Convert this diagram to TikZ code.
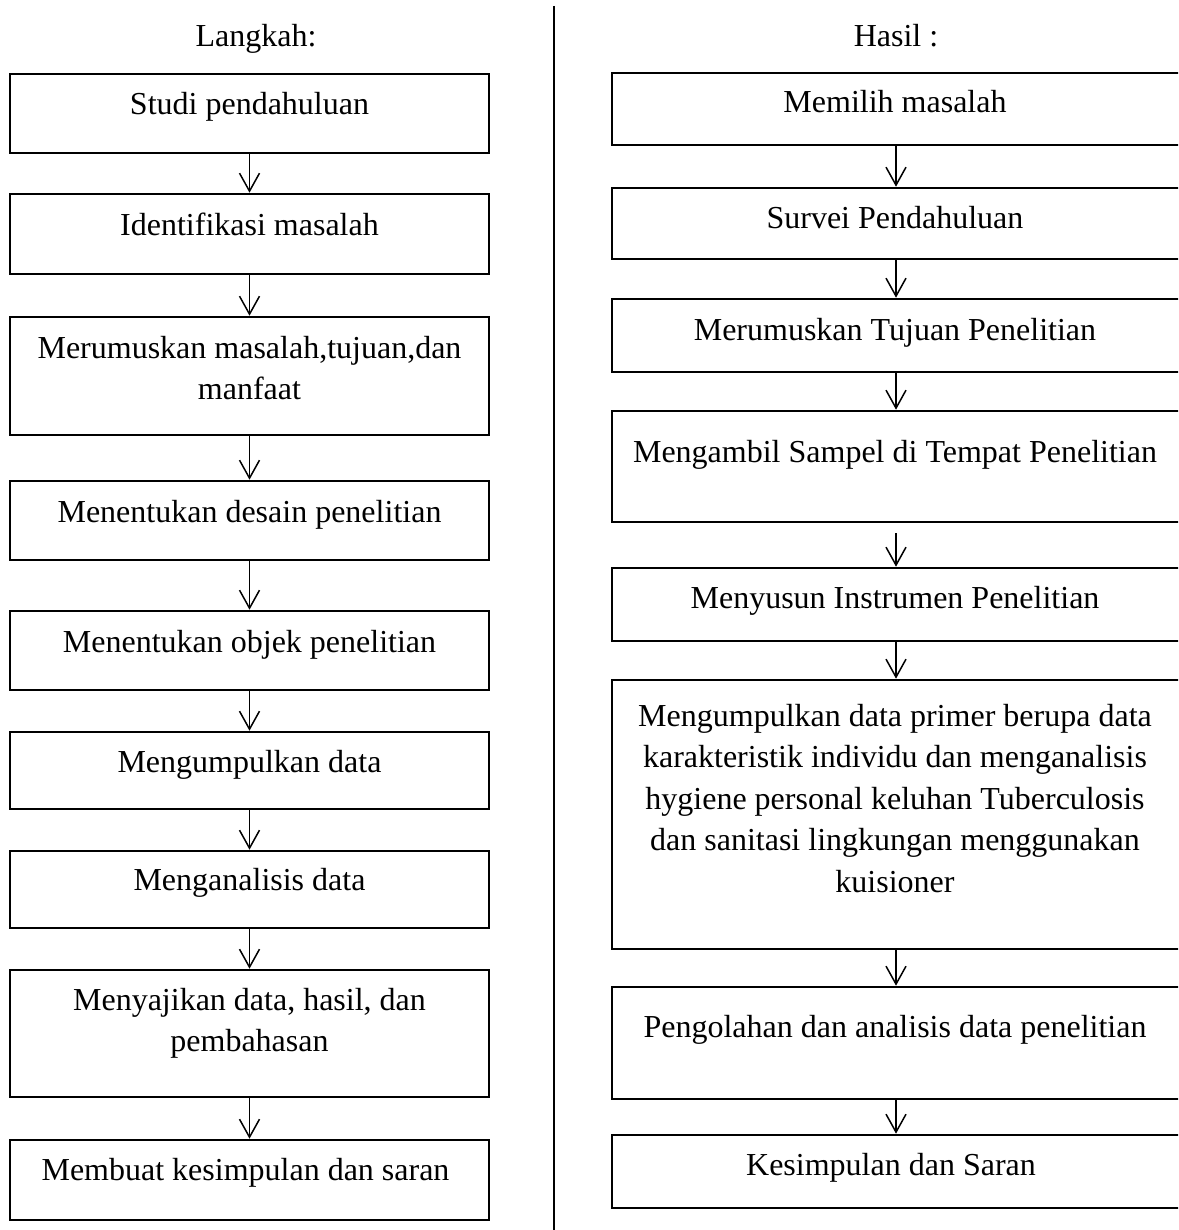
\documentclass[tikz,border=0pt]{standalone}
\usepackage{fontspec}
\setmainfont{Liberation Serif}
\usetikzlibrary{arrows.meta,positioning}
\begin{document}
\begin{tikzpicture}[x=0.5pt, y=-0.5pt]

	\tikzset{
		box/.style={draw, line width=1.3pt, inner sep=0pt},
		lbox/.style={box, minimum width=239.5pt},
		rbox/.style={box, minimum width=284pt},
		txt/.style={font=\fontsize{16pt}{20.75pt}\selectfont, align=center, inner sep=0pt, anchor=base},
		title/.style={font=\fontsize{16pt}{20.75pt}\selectfont, inner sep=0pt, anchor=base},
		arr/.style={line width=0.75pt, -{Straight Barb[length=9pt, width=10pt, line width=0.75pt]}}
	}

	\useasboundingbox (0,0) rectangle (1178,1230);
	\clip (0,0) rectangle (1178,1230);

	% ---------------------------
	% Column titles and divider
	% ---------------------------
	\node[title] (langkah) at (256,47) {Langkah:};
	\node[title] (hasil) at (896,47) {Hasil :};
	\coordinate (divtop) at (554,6);
	\coordinate (divbot) at (554,1230);
	\draw[line width=0.8pt] (divtop) -- (divbot);

	% ---------------------------
	% Left column (name/top/bottom/last baseline/text)
	% ---------------------------
	\foreach \nm/\ya/\yb/\dy/\txt in {
		L1/74/153/41/{Studi pendahuluan},
		L2/194/274/41/{Identifikasi masalah},
		L3/317/435/82.5/{Merumuskan masalah,tujuan,dan\\manfaat},
		L4/481/560/41/{Menentukan desain penelitian},
		L5/611/690/41/{Menentukan objek penelitian},
		L6/732/809/40/{Mengumpulkan data},
		L7/851/928/39/{Menganalisis data},
		L8/970/1097/81.5/{Menyajikan data, hasil, dan\\pembahasan},
		L9/1140/1220/40/{Membuat kesimpulan dan saran}
	}{
		\node[lbox, minimum height={(\yb-\ya)*0.5pt}] (\nm) at (249.5,{(\ya+\yb)/2}) {};
		\node[txt] (\nm-t) at (249.5,{\ya+\dy}) {\txt};
	}

	% ---------------------------
	% Right column
	% ---------------------------
	\foreach \nm/\ya/\yb/\dy/\txt in {
		R1/73/145/40/{Memilih masalah},
		R2/188/259/40/{Survei Pendahuluan},
		R3/299/372/41/{Merumuskan Tujuan Penelitian},
		R4/411/522/51/{Mengambil Sampel di Tempat Penelitian},
		R5/568/641/40/{Menyusun Instrumen Penelitian},
		R6/680/949/212/{Mengumpulkan data primer berupa data\\karakteristik individu dan menganalisis\\hygiene personal keluhan Tuberculosis\\dan sanitasi lingkungan menggunakan\\kuisioner},
		R7/987/1099/50/{Pengolahan dan analisis data penelitian},
		R8/1135/1208/40/{Kesimpulan dan Saran}
	}{
		\node[rbox, minimum height={(\yb-\ya)*0.5pt}] (\nm) at (896,{(\ya+\yb)/2}) {};
		\node[txt] (\nm-t) at (895,{\ya+\dy}) {\txt};
	}

	% arrows
	\foreach \a/\b in {L1/L2,L2/L3,L3/L4,L4/L5,L5/L6,L6/L7,L7/L8,L8/L9,
		R1/R2,R2/R3,R3/R4,R5/R6,R6/R7,R7/R8} {
		\draw[arr] (\a.south) -- (\b.north);
	}
	\draw[arr] ([yshift=-5pt]R4.south) -- (R5.north);

\end{tikzpicture}
\end{document}
